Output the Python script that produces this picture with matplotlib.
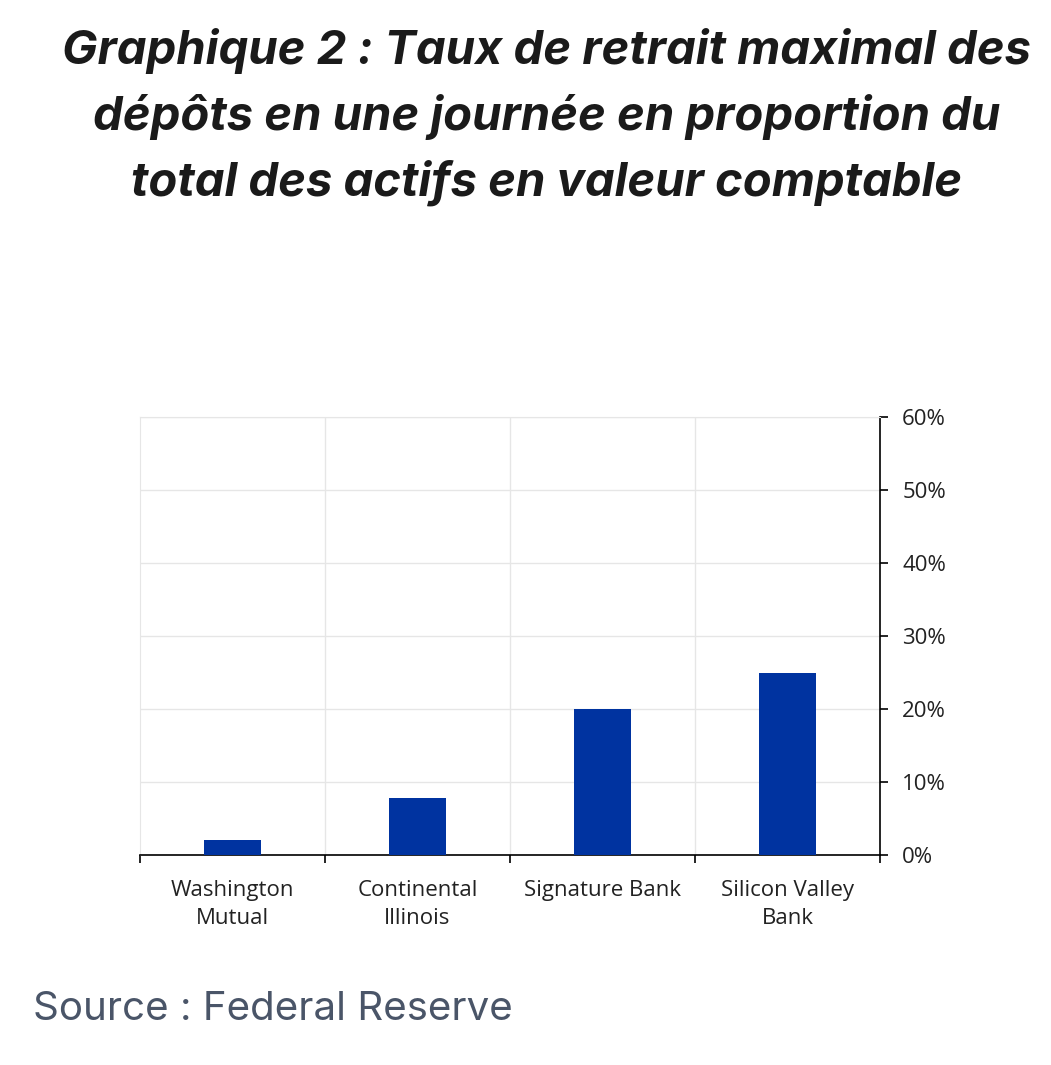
import matplotlib
matplotlib.use("Agg")
import matplotlib.pyplot as plt
from matplotlib.ticker import FuncFormatter, FixedLocator

categories = ["Washington\nMutual", "Continental\nIllinois", "Signature Bank", "Silicon Valley\nBank"]
values = [2.0, 7.8, 20.0, 25.0]
yticks = [0, 10, 20, 30, 40, 50, 60]

fig = plt.figure(figsize=(10.51, 10.65), dpi=100)
W, H = 1051, 1065
ax = fig.add_axes([140/W, 1-855/H, 740/W, 438/H])
x = list(range(len(categories)))
ax.bar(x, values, width=0.31, color="#0033A0", zorder=3)
ax.set_xlim(-0.5, len(categories)-0.5)
ax.set_ylim(0, 60)
ax.yaxis.tick_right()
ax.set_yticks(yticks)
ax.yaxis.set_major_formatter(FuncFormatter(lambda v, p: f"{int(v)}%"))
ax.grid(axis="y", color="#e6e6e6", lw=1, zorder=0)
ax.xaxis.set_major_locator(FixedLocator([i - 0.5 for i in range(len(categories)+1)]))
ax.set_xticklabels([])
ax.set_xticks(x, minor=True)
ax.set_xticklabels(categories, minor=True, fontsize=16, family="Open Sans", linespacing=1.45)
ax.tick_params(axis="x", which="minor", length=0, pad=18, colors="#222222")
ax.tick_params(axis="x", which="major", length=6, width=1.2, direction="out")
for b in [0.5, 1.5, 2.5]:
    ax.axvline(b, color="#e6e6e6", lw=1, zorder=0)
ax.tick_params(axis="y", length=6, width=1.2, direction="out", labelsize=16, pad=10, labelcolor="#222222")
for lab in ax.get_yticklabels():
    lab.set_family("Open Sans")
for s in ["top", "left"]:
    ax.spines[s].set_color("#e6e6e6")
ax.spines["bottom"].set_linewidth(1.2)
ax.spines["right"].set_linewidth(1.2)

title = "Graphique 2 : Taux de retrait maximal des\ndépôts en une journée en proportion du\ntotal des actifs en valeur comptable"
fig.text(0.52, 1-28/H, title, ha="center", va="top", fontsize=34, fontweight="bold",
         fontstyle="italic", family="Inter", color="#1a1a1a", linespacing=1.55)
fig.text(33/W, 1-1010/H, "Source : Federal Reserve", ha="left", va="center", fontsize=29,
         family="Inter", color="#4a5568")
fig.savefig("out.png", dpi=100)
